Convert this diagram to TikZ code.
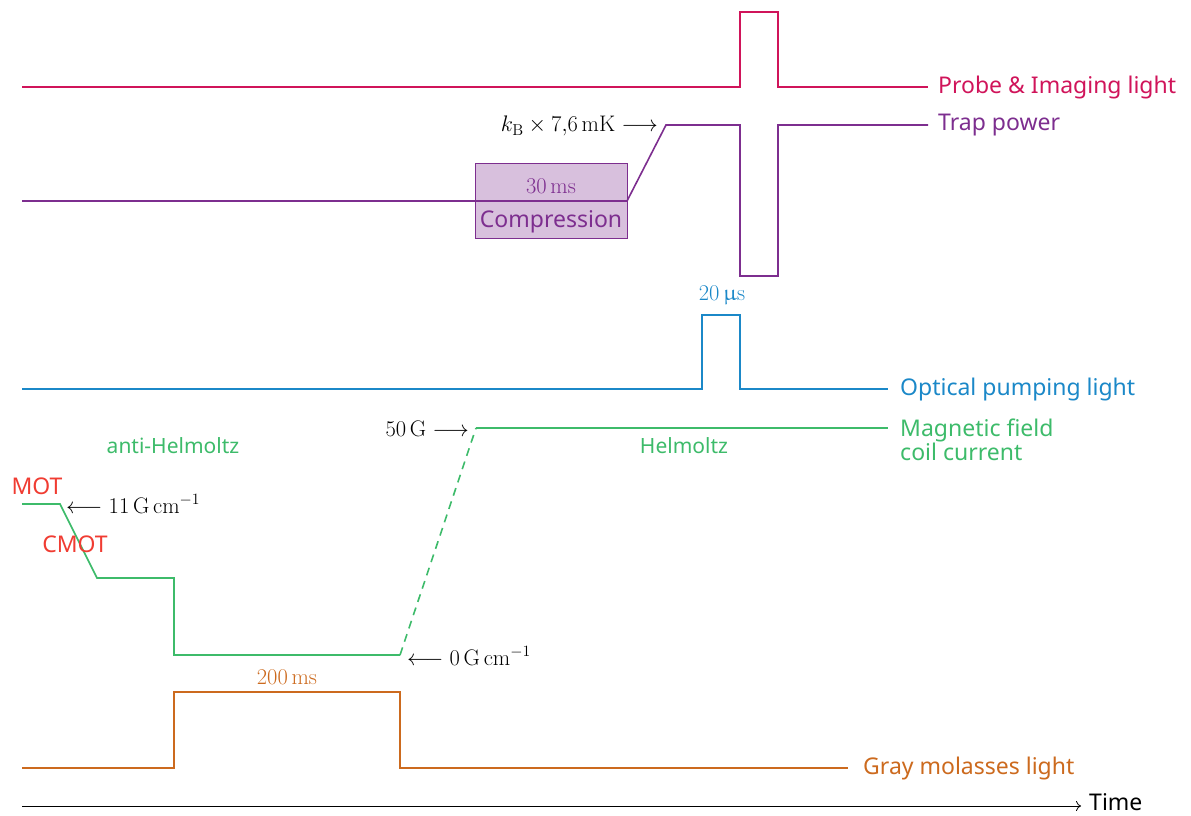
\RequirePackage{fix-cm}
\documentclass[tikz,border=0pt]{standalone}
\usepackage[no-math]{fontspec}
\setmainfont{Noto Sans}
\usepackage{amsmath}
\usepackage{upgreek}
\usetikzlibrary{arrows.meta}
\definecolor{cprobe}{HTML}{D0145A}
\definecolor{ctrap}{HTML}{7D2E8F}
\definecolor{cpump}{HTML}{1B88C8}
\definecolor{cmag}{HTML}{3DBB6A}
\definecolor{cgray}{HTML}{CC6A1E}
\definecolor{cmot}{HTML}{F03C32}
\begin{document}
\begin{tikzpicture}[x=1pt,y=-1pt,
  sig/.style={line width=1.6pt},
  lab/.style={anchor=west,inner sep=0pt,font=\fontsize{23}{26}\selectfont},
  small/.style={inner sep=0pt,font=\fontsize{21}{23}\selectfont},
  mth/.style={inner sep=0pt,font=\fontsize{22.5}{25}\selectfont}]
\useasboundingbox (0,0) rectangle (1191,816);
% Compression box
\node[draw=ctrap,fill=ctrap!30,line width=0.8pt,minimum width=152pt,minimum height=75pt,inner sep=0pt] (cbox) at (551,200.5) {};
\node[mth,text=ctrap] (t30) at (551,186) {$30\,\mathrm{ms}$};
\node[lab,anchor=center,text=ctrap] (tcomp) at (551,222) {Compression};
% Probe
\coordinate (p0) at (22,87);
\coordinate (p1) at (928,87);
\draw[sig,cprobe] (p0) -- (740,87) -- (740,12) -- (778,12) -- (778,87) -- (p1);
\node[lab,text=cprobe] (lprobe) at (938,88) {Probe \& Imaging light};
% Trap
\coordinate (t0) at (22,201);
\coordinate (t1) at (928,125);
\draw[sig,ctrap] (t0) -- (627,201) -- (666,125) -- (740,125) -- (740,276) -- (778,276) -- (778,125) -- (t1);
\node[lab,text=ctrap] (ltrap) at (938,125) {Trap power};
\node[mth,anchor=east] (kb) at (658,126) {$k_\mathrm{B}\times 7{,}6\,\mathrm{mK}\longrightarrow$};
% Optical pumping
\coordinate (o0) at (22,389);
\coordinate (o1) at (888,389);
\draw[sig,cpump] (o0) -- (702,389) -- (702,315) -- (740,315) -- (740,389) -- (o1);
\node[lab,text=cpump] (lpump) at (900,390) {Optical pumping light};
\node[mth,text=cpump] (t20) at (722,295) {$20\,\upmu\mathrm{s}$};
% Magnetic field
\coordinate (m0) at (22,504);
\coordinate (m1) at (400,655);
\coordinate (m2) at (476,428);
\coordinate (m3) at (888,428);
\draw[sig,cmag] (m0) -- (60,504) -- (97,578) -- (174,578) -- (174,655) -- (m1);
\draw[sig,cmag,dashed,dash pattern=on 8pt off 6pt] (m1) -- (m2);
\draw[sig,cmag] (m2) -- (m3);
\node[lab,text=cmag,align=left] (lmag) at (900,440) {Magnetic field\\[-2pt]coil current};
\node[small,text=cmag] (helm) at (684,446) {Helmoltz};
\node[small,text=cmag] (ahelm) at (173,446) {anti-Helmoltz};
\node[lab,anchor=center,text=cmot] (mot) at (37,486) {MOT};
\node[lab,anchor=center,text=cmot] (cmot) at (75,544) {CMOT};
\node[mth,anchor=west] (g11) at (66,504) {$\longleftarrow 11\,\mathrm{G}\,\mathrm{cm}^{-1}$};
\node[mth,anchor=east] (g50) at (469,429) {$50\,\mathrm{G}\longrightarrow$};
\node[mth,anchor=west] (g0) at (407,656) {$\longleftarrow 0\,\mathrm{G}\,\mathrm{cm}^{-1}$};
% Gray molasses
\coordinate (g0a) at (22,768);
\coordinate (g1a) at (848,768);
\draw[sig,cgray] (g0a) -- (174,768) -- (174,692) -- (400,692) -- (400,768) -- (g1a);
\node[lab,text=cgray] (lgray) at (863,769) {Gray molasses light};
\node[mth,text=cgray] (t200) at (287,677) {$200\,\mathrm{ms}$};
% Time axis
\coordinate (a0) at (22,806);
\coordinate (a1) at (1081,806);
\draw[line width=0.8pt,-{To[length=5pt,width=10pt]}] (a0) -- (a1);
\node[lab] (time) at (1089,802) {Time};
\end{tikzpicture}
\end{document}
